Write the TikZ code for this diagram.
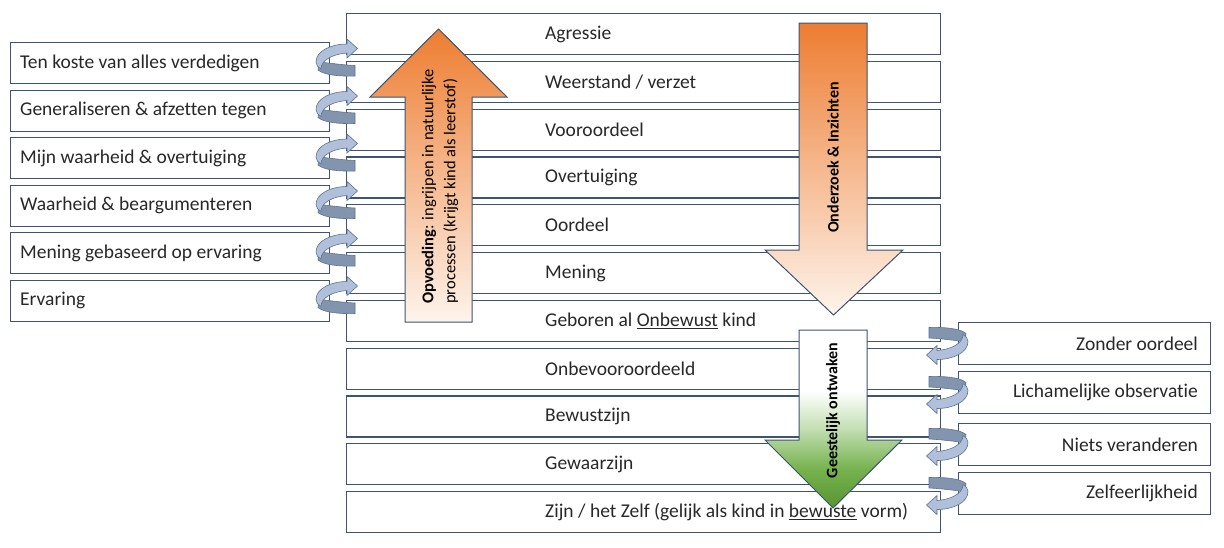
\documentclass[tikz,border=0pt]{standalone}
\usepackage{fontspec}
\setmainfont{Carlito}[Ligatures={NoCommon,NoContextual}]
\definecolor{edge}{RGB}{62,84,112}
\definecolor{txt}{RGB}{40,40,40}
\definecolor{orA}{RGB}{237,125,49}
\definecolor{orB}{RGB}{254,244,236}
\definecolor{gD}{RGB}{88,148,48}
\definecolor{gM}{RGB}{118,178,78}
\definecolor{gL}{RGB}{200,225,185}
\definecolor{cL}{RGB}{176,192,218}
\definecolor{cD}{RGB}{130,148,174}
\definecolor{cE}{RGB}{95,115,145}
\pgfdeclareverticalshading{orshade}{100bp}{color(0bp)=(orB); color(25bp)=(orB); color(75bp)=(orA); color(100bp)=(orA)}
\pgfdeclareverticalshading{grshade}{100bp}{color(0bp)=(gD); color(25bp)=(gD); color(36bp)=(gM); color(48bp)=(gL); color(58bp)=(white); color(100bp)=(white)}
\newcommand\curlshape{%
  \filldraw[fill=cD, draw=cE, line width=0.6pt] (-10,20) .. controls (0,21) and (14,23) .. (26,23.5) -- (26,34) .. controls (10,34.5) and (-5,33) .. (-11,28) -- cycle;
  \filldraw[fill=cL, draw=cE, line width=0.6pt] (18,2) -- (18,-3) -- (28.5,6.5) -- (18,16) -- (18,11) .. controls (4,12) and (-8,18) .. (-8,27) .. controls (-11,25.5) and (-13,23) .. (-13,20) .. controls (-13,9) and (2,2) .. (18,2) -- cycle;
}
\tikzset{
  rowbox/.style={draw=edge, line width=1.1pt, fill=white, inner sep=0pt, anchor=north west},
  cbox/.style={rowbox, minimum width=594pt, minimum height=41pt},
  lbox/.style={rowbox, minimum width=319pt, minimum height=41pt},
  rbox/.style={rowbox, minimum width=252pt, minimum height=41.5pt},
  lbl/.style={inner sep=0pt, text=txt, font=\fontsize{19.5}{22}\selectfont},
  bigarrow/.style={draw=edge, line width=1pt},
  arrowtext/.style={inner sep=0pt, rotate=90, text=black, font=\fontsize{16.5}{22}\selectfont}
}
\begin{document}
\begin{tikzpicture}[x=1pt, y=-1pt]
\useasboundingbox (0,0) rectangle (1224,547);
\fill[white] (0,0) rectangle (1224,547);
% central boxes
\foreach \n/\t in {1/13, 2/60.8, 3/108.6, 4/156.4, 5/204.2, 6/252, 7/299.8, 8/347.6, 9/395.4, 10/443.2, 11/491}{
  \node[cbox] (c\n) at (346,\t) {};
}
% left boxes
\foreach \n/\t in {1/42, 2/89.5, 3/137, 4/184.5, 5/232, 6/279.5}{
  \node[lbox] (l\n) at (10,\t) {};
}
% right boxes
\foreach \n/\t in {1/322, 2/371, 3/423, 4/472}{
  \node[rbox] (r\n) at (958,\t) {};
}
% big arrows
\path[bigarrow, shade, shading=orshade] (405,322) -- (405,97) -- (370,97) -- (438.5,29) -- (507,97) -- (472,97) -- (472,322) -- cycle;
\path[bigarrow, shade, shading=orshade] (799,23) -- (867,23) -- (867,250) -- (903,250) -- (833.5,315) -- (765,250) -- (799,250) -- cycle;
\path[bigarrow, shade, shading=grshade] (799,330) -- (867,330) -- (867,440) -- (902,440) -- (833,508) -- (765,440) -- (799,440) -- cycle;
% arrow texts
\node[arrowtext, anchor=west, align=left] (up) at (440,304) {\textbf{Opvoeding}: ingrijpen in natuurlijke\\processen (krijgt kind als leerstof)};
\node[arrowtext, font=\fontsize{16}{22}\selectfont\bfseries] (onderzoek) at (833,157.5) {Onderzoek \& Inzichten};
\node[arrowtext, font=\fontsize{16}{22}\selectfont\bfseries] (geest) at (833,410.5) {Geestelijk ontwaken};
% central labels
\foreach \n/\s in {1/{Agressie}, 2/{Weerstand / verzet}, 3/{Vooroordeel}, 4/{Overtuiging}, 5/{Oordeel}, 6/{Mening}, 7/{Geboren al \underline{Onbewust} kind}, 8/{Onbevooroordeeld}, 9/{Bewustzijn}, 10/{Gewaarzijn}, 11/{Zijn / het Zelf (gelijk als kind in \underline{bewuste} vorm)}}{
  \node[lbl, anchor=west] (ct\n) at ([xshift=199pt]c\n.west) {\s};
}
% left labels
\foreach \n/\s in {1/{Ten koste van alles verdedigen}, 2/{Generaliseren \& afzetten tegen}, 3/{Mijn waarheid \& overtuiging}, 4/{Waarheid \& beargumenteren}, 5/{Mening gebaseerd op ervaring}, 6/{Ervaring}}{
  \node[lbl, anchor=west] (lt\n) at ([xshift=10pt]l\n.west) {\s};
}
% right labels
\foreach \n/\s in {1/{Zonder oordeel}, 2/{Lichamelijke observatie}, 3/{Niets veranderen}, 4/{Zelfeerlijkheid}}{
  \node[lbl, anchor=east] (rt\n) at ([xshift=-13pt]r\n.east) {\s};
}
% curled arrows left
\foreach \t in {42, 89.5, 137, 184.5, 232, 279.5}{
  \begin{scope}[shift={(329,\t)}]\curlshape\end{scope}
}
% curled arrows right
\foreach \t in {322, 371, 423, 472}{
  \begin{scope}[shift={(955,\t+39.5)}, rotate=180]\curlshape\end{scope}
}
\end{tikzpicture}
\end{document}
